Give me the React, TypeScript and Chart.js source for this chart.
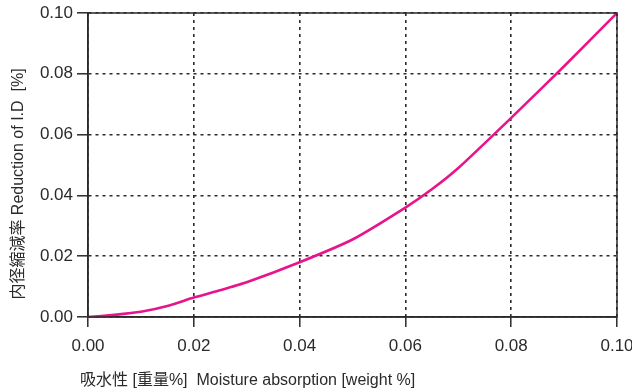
import React, { useEffect, useRef } from "react";
import { Chart, registerables } from "chart.js";

Chart.register(...registerables);

const moisture = [0, 0.005, 0.01, 0.015, 0.02, 0.025, 0.03, 0.04, 0.05, 0.06, 0.065, 0.07, 0.08, 0.09, 0.1];
const reduction = [0, 0.0007, 0.0017, 0.0036, 0.0064, 0.0088, 0.0114, 0.018, 0.0255, 0.036, 0.042, 0.049, 0.0655, 0.0825, 0.1];
const xTicks = [0, 0.02, 0.04, 0.06, 0.08, 0.1];
const yTicks = [0, 0.02, 0.04, 0.06, 0.08, 0.1];
const xTitle = "吸水性 [重量%]  Moisture absorption [weight %]";
const yTitle = "内径縮減率 Reduction of I.D  [%]";

const FONT = '"Liberation Sans", Arial, "Noto Sans CJK JP", sans-serif';
const INK = "#2a2a2a";

export default function App() {
  const ref = useRef<HTMLCanvasElement | null>(null);
  useEffect(() => {
    if (!ref.current) return;
    const framePlugin = {
      id: "frameAndTitles",
      afterDraw(chart: any) {
        const { ctx, chartArea } = chart;
        ctx.save();
        ctx.strokeStyle = INK;
        ctx.lineWidth = 1.5;
        ctx.setLineDash([]);
        ctx.strokeRect(chartArea.left, chartArea.top, chartArea.right - chartArea.left, chartArea.bottom - chartArea.top);
        ctx.fillStyle = INK;
        ctx.font = `16px ${FONT}`;
        ctx.textBaseline = "middle";
        ctx.textAlign = "left";
        ctx.fillText(xTitle, 80, 381);
        ctx.translate(19, 184);
        ctx.rotate(-Math.PI / 2);
        ctx.textAlign = "center";
        ctx.fillText(yTitle, 0, 0);
        ctx.restore();
      },
    };
    const chart = new Chart(ref.current, {
      type: "line",
      data: {
        datasets: [
          {
            data: moisture.map((x, i) => ({ x, y: reduction[i] })),
            borderColor: "#e8148c",
            borderWidth: 2.6,
            pointRadius: 0,
            tension: 0.15,
            fill: false,
          },
        ],
      },
      options: {
        animation: false,
        responsive: false,
        maintainAspectRatio: false,
        layout: { padding: { left: 0, right: 15, top: 13, bottom: 0 } },
        plugins: { legend: { display: false }, tooltip: { enabled: false } },
        scales: {
          x: {
            type: "linear",
            min: 0,
            max: 0.1,
            afterBuildTicks(scale: any) {
              scale.ticks = xTicks.map((v) => ({ value: v }));
            },
            afterFit(scale: any) {
              scale.height = 72;
              scale.paddingRight = 0;
              scale.paddingLeft = 0;
            },
            ticks: {
              color: INK,
              font: { family: FONT, size: 17 },
              padding: 9,
              maxRotation: 0,
              callback: (v: any) => Number(v).toFixed(2),
            },
            grid: {
              color: INK,
              lineWidth: 1.6,
              tickLength: 10,
              tickColor: INK,
              tickWidth: 1.5,
              tickBorderDash: [],
            },
            border: { display: true, color: INK, width: 1.5, dash: [3, 4] },
          },
          y: {
            type: "linear",
            min: 0,
            max: 0.1,
            afterBuildTicks(scale: any) {
              scale.ticks = yTicks.map((v) => ({ value: v }));
            },
            afterFit(scale: any) {
              scale.width = 88;
              scale.paddingTop = 0;
              scale.paddingBottom = 0;
            },
            ticks: {
              color: INK,
              font: { family: FONT, size: 17 },
              padding: 4,
              callback: (v: any) => Number(v).toFixed(2),
            },
            grid: {
              color: INK,
              lineWidth: 1.6,
              tickLength: 11,
              tickColor: INK,
              tickWidth: 1.5,
              tickBorderDash: [],
            },
            border: { display: true, color: INK, width: 1.5, dash: [3, 4] },
          },
        },
      },
      plugins: [framePlugin],
    } as any);
    return () => chart.destroy();
  }, []);
  return (
    <div style={{ position: "fixed", left: 0, top: 0, width: 632, height: 389, background: "#fff" }}>
      <canvas ref={ref} width={632} height={389} style={{ display: "block", width: 632, height: 389 }} />
    </div>
  );
}
